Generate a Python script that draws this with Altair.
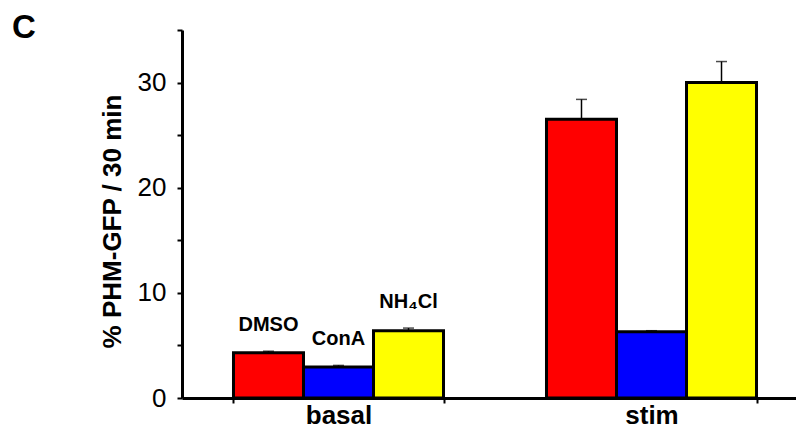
import altair as alt
import pandas as pd

conditions = ["basal", "stim"]
treatments = ["DMSO", "ConA", "NH4Cl"]
label_text = ["DMSO", "ConA", "NH\u2084Cl"]
basal_values = [4.3, 2.95, 6.4]
basal_errors = [0.15, 0.15, 0.25]
stim_values = [26.5, 6.3, 30.0]
stim_errors = [1.9, 0.1, 2.0]
colors = ["#ff0000", "#0000ff", "#ffff00"]
y_ticks = [0, 5, 10, 15, 20, 25, 30, 35]

rows = []
for cond, vals, errs in [("basal", basal_values, basal_errors), ("stim", stim_values, stim_errors)]:
    for t, v, e, lab in zip(treatments, vals, errs, label_text):
        rows.append(dict(condition=cond, treatment=t, value=v, top=v + e,
                         label=lab if cond == "basal" else ""))
df = pd.DataFrame(rows)

FONT = "Arial, Liberation Sans, sans-serif"

x_enc = alt.X(
    "condition:N", sort=conditions,
    scale=alt.Scale(range=[0, 626], paddingInner=0.329, paddingOuter=0.1645),
    axis=alt.Axis(title=None, labelAngle=0, labelFont=FONT, labelFontSize=26,
                  labelFontWeight="bold", labelColor="black", labelPadding=20,
                  labelBaseline="alphabetic",
                  tickBand="extent", tickSize=5, tickWidth=2, tickColor="black",
                  domainColor="black", domainWidth=3),
)
xo_enc = alt.XOffset("treatment:N", sort=treatments,
                     scale=alt.Scale(paddingInner=0, paddingOuter=0))
y_axis = alt.Axis(values=y_ticks, labelExpr="datum.value % 10 == 0 ? datum.label : ''",
                  labelFont=FONT, labelFontSize=26, labelColor="black", labelPadding=11,
                  tickSize=5, tickWidth=2, tickColor="black",
                  domainColor="black", domainWidth=3,
                  title="% PHM-GFP / 30 min", titleFont=FONT, titleFontSize=26,
                  titleFontWeight="bold", titleColor="black", titleAngle=-90,
                  titleX=-70, titleY=191, titleAlign="center", titleBaseline="middle")
y_scale = alt.Scale(domain=[0, 35], nice=False)

base = alt.Chart(df)

bars = base.mark_bar(stroke="black", strokeWidth=3).encode(
    x=x_enc, xOffset=xo_enc,
    y=alt.Y("value:Q", scale=y_scale, axis=y_axis),
    color=alt.Color("treatment:N", scale=alt.Scale(domain=treatments, range=colors), legend=None),
)
rules = base.mark_rule(color="black", strokeWidth=1.5).encode(
    x=x_enc, xOffset=xo_enc,
    y=alt.Y("value:Q", scale=y_scale, axis=y_axis), y2="top:Q",
)
caps = base.mark_tick(color="black", size=11, thickness=1.5).encode(
    x=x_enc, xOffset=xo_enc,
    y=alt.Y("top:Q", scale=y_scale, axis=y_axis),
)
labels = base.transform_filter("datum.condition == 'basal'").mark_text(
    baseline="alphabetic", dy=-20, font=FONT, fontSize=20, fontWeight="bold", color="black"
).encode(
    x=x_enc, xOffset=xo_enc,
    y=alt.Y("top:Q", scale=y_scale, axis=y_axis),
    text="label:N",
)

chart = alt.layer(bars, rules, caps, labels).properties(
    width=614, height=368,
    autosize="none",
    padding={"left": 174, "top": 22, "right": 0, "bottom": 31},
    title=alt.TitleParams(text="C", anchor="start", fontSize=33, fontWeight="bold",
                          font=FONT, color="black", dx=-170, dy=16, offset=0, frame="group"),
).configure_axis(grid=False).configure_view(stroke=None)

chart.save("out.html", embed_options={"renderer": "svg", "actions": False})
